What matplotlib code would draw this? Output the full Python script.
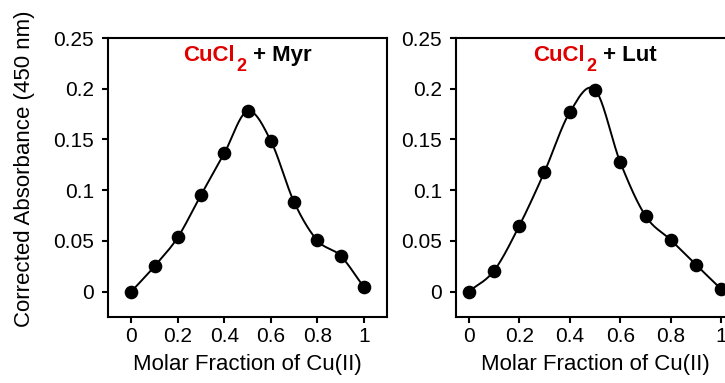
import numpy as np
import matplotlib
matplotlib.use("Agg")
import matplotlib.pyplot as plt

plt.rcParams['font.family'] = ['Liberation Sans', 'DejaVu Sans']

# Job's plot data: molar fraction of Cu(II) vs corrected absorbance at 450 nm
mole_fraction = [0.0, 0.1, 0.2, 0.3, 0.4, 0.5, 0.6, 0.7, 0.8, 0.9, 1.0]
absorbance_myr = [0.0, 0.025, 0.0535, 0.0953, 0.1363, 0.1779, 0.1488, 0.0885, 0.0505, 0.0354, 0.0046]
absorbance_lut = [0.0, 0.0205, 0.0647, 0.118, 0.1767, 0.199, 0.1275, 0.0746, 0.0509, 0.0264, 0.0023]
y_ticks = [0, 0.05, 0.1, 0.15, 0.2, 0.25]
y_tick_labels = ['0', '0.05', '0.1', '0.15', '0.2', '0.25']
x_ticks = [0, 0.2, 0.4, 0.6, 0.8, 1.0]
x_tick_labels = ['0', '0.2', '0.4', '0.6', '0.8', '1']
ligands = ['Myr', 'Lut']


def catmull_rom(x, y, per_seg=60):
    """Smooth curve through the points using Catmull-Rom (cardinal) tangents."""
    x = np.asarray(x, float)
    y = np.asarray(y, float)
    m = len(x)
    t = np.zeros(m)
    t[1:-1] = (y[2:] - y[:-2]) / (x[2:] - x[:-2])
    t[0] = (y[1] - y[0]) / (x[1] - x[0])
    t[-1] = (y[-1] - y[-2]) / (x[-1] - x[-2])
    xs_all, ys_all = [], []
    for i in range(m - 1):
        h = x[i + 1] - x[i]
        s = np.linspace(0, 1, per_seg, endpoint=(i == m - 2))
        h00 = 2 * s**3 - 3 * s**2 + 1
        h10 = s**3 - 2 * s**2 + s
        h01 = -2 * s**3 + 3 * s**2
        h11 = s**3 - s**2
        xs_all.append(x[i] + s * h)
        ys_all.append(h00 * y[i] + h10 * h * t[i] + h01 * y[i + 1] + h11 * h * t[i + 1])
    return np.concatenate(xs_all), np.concatenate(ys_all)


W, H = 725, 383
fig = plt.figure(figsize=(W / 100, H / 100), dpi=100)

panels = [
    (108, 387, (-0.1, 1.1), absorbance_myr, ligands[0]),
    (456, 734, (-0.05, 1.05), absorbance_lut, ligands[1]),
]
top_px, bottom_px = 38, 317
title_size = 16

for i, (lpx, rpx, xlim, values, ligand) in enumerate(panels):
    ax = fig.add_axes([lpx / W, 1 - bottom_px / H, (rpx - lpx) / W, (bottom_px - top_px) / H])
    xs, ys = catmull_rom(mole_fraction, values)
    ax.plot(xs, ys, color='black', lw=1.4, zorder=2)
    ax.plot(mole_fraction, values, 'o', color='black', ms=8.8, zorder=3, clip_on=False)
    ax.set_xlim(*xlim)
    ax.set_ylim(-0.025, 0.25)
    ax.set_xticks(x_ticks)
    ax.set_xticklabels(x_tick_labels)
    ax.set_yticks(y_ticks)
    ax.set_yticklabels(y_tick_labels)
    for s in ax.spines.values():
        s.set_linewidth(1.5)
    ax.tick_params(axis='both', direction='out', length=4, width=1.5, labelsize=15)
    ax.tick_params(axis='x', pad=3)
    ax.tick_params(axis='y', pad=6)
    ax.set_xlabel('Molar Fraction of Cu(II)', fontsize=16, labelpad=6)
    if i == 0:
        ax.set_ylabel('Corrected Absorbance (450 nm)', fontsize=16)
        ax.yaxis.set_label_coords(-0.262, 0.53)

    # panel title: red CuCl2 followed by the ligand name in black
    fig.canvas.draw()
    t1 = ax.text(0.5, 0.5, 'CuCl', color='#e00000', fontsize=title_size, fontweight='bold',
                 transform=ax.transAxes, va='bottom', ha='left')
    t2 = ax.annotate('2', xy=(1, 0), xycoords=t1, xytext=(1.5, -7), textcoords='offset points',
                     color='#e00000', fontsize=13, fontweight='bold', va='bottom', ha='left')
    t3 = ax.annotate(' + ' + ligand, xy=(1, 0), xycoords=t2, xytext=(0.5, 7), textcoords='offset points',
                     color='black', fontsize=title_size, fontweight='bold', va='bottom', ha='left')
    fig.canvas.draw()
    r = fig.canvas.get_renderer()
    b1 = t1.get_window_extent(r)
    b3 = t3.get_window_extent(r)
    width = b3.x1 - b1.x0
    ax_bb = ax.get_window_extent(r)
    cx = (ax_bb.x0 + ax_bb.x1) / 2
    baseline_y = H - 61
    x0_disp = cx - width / 2
    inv = ax.transAxes.inverted()
    descent = 0.212 * title_size * 100 / 72
    ax_x, ax_y = inv.transform((x0_disp, baseline_y - descent))
    t1.set_position((ax_x, ax_y))

fig.savefig('out.png', dpi=100)
